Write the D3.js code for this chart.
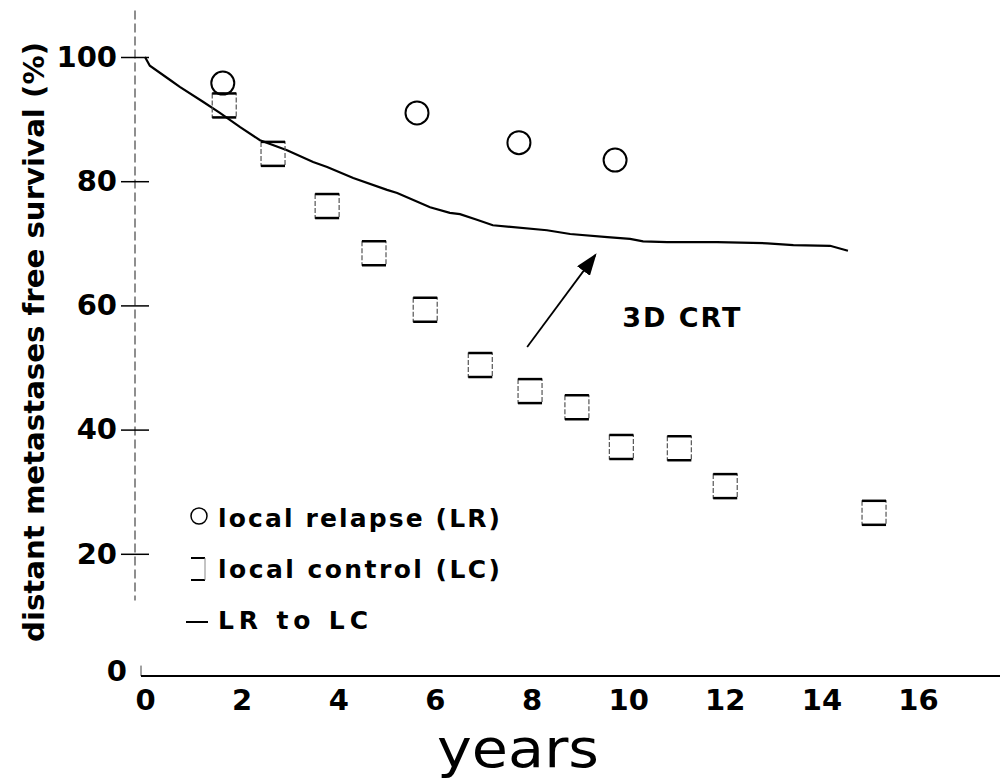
<!DOCTYPE html>
<html>
<head>
<meta charset="utf-8">
<script src="https://cdn.jsdelivr.net/npm/d3@7"></script>
<style>
  body { margin: 0; background: #fff; }
  text { font-family: "DejaVu Sans", sans-serif; fill: #000; }
</style>
</head>
<body>
<div id="chart-area"></div>
<script>
// data
var lrYears = [1.61, 5.63, 7.74, 9.73];
var lrValues = [95.8, 91.0, 86.2, 83.4];

var lcYears = [1.64, 2.65, 3.77, 4.74, 5.80, 6.94, 7.97, 8.94, 9.86, 11.06, 12.01, 15.09];
var lcValues = [92.2, 84.4, 76.0, 68.4, 59.3, 50.4, 46.2, 43.6, 37.2, 37.0, 30.9, 26.6];

var curveYears = [0, 0.10, 0.52, 0.72, 1.20, 1.55, 1.97, 2.38, 2.94, 3.48, 3.77, 4.31, 5.01, 5.22, 5.90,
  6.31, 6.52, 6.87, 7.20, 8.32, 8.80, 9.57, 10.04, 10.31, 10.81, 11.84, 12.88, 13.42, 14.18, 14.55];
var curveValues = [100, 98.6, 96.3, 95.2, 92.8, 91.0, 88.7, 86.6, 85.0, 83.1, 82.3, 80.5, 78.6, 78.1, 75.8,
  74.9, 74.7, 73.8, 72.9, 72.1, 71.5, 71.0, 70.7, 70.3, 70.2, 70.2, 70.0, 69.7, 69.6, 68.8];

var xTicks = [0, 2, 4, 6, 8, 10, 12, 14, 16];
var yTicks = [0, 20, 40, 60, 80, 100];

var legendLabels = ["local relapse (LR)", "local control (LC)", "LR to LC"];

var width = 1000;
var height = 782;

var svg = d3.select("#chart-area").append("svg")
  .attr("width", width)
  .attr("height", height)

var x = d3.scaleLinear()
  .domain([0, 16])
  .range([145, 918])

var y = d3.scaleLinear()
  .domain([0, 100])
  .range([678, 57])

var yAxisX = 135

// Y axis (dashed, like the scan)
svg.append("line")
  .attr("x1", yAxisX).attr("x2", yAxisX)
  .attr("y1", y(107.5)).attr("y2", y(12.5))
  .attr("stroke", "#444")
  .attr("stroke-width", 1.2)
  .attr("stroke-dasharray", "9,4")

svg.append("line")
  .attr("x1", x(0) - 4).attr("x2", x(0) - 4)
  .attr("y1", y(2)).attr("y2", y(0) - 2)
  .attr("stroke", "#444")
  .attr("stroke-width", 1)

var yAxisGroup = svg.append("g")
  .attr("transform", "translate(" + yAxisX + ",0)")
  .call(d3.axisLeft(y).tickValues(yTicks).tickSize(0).tickPadding(18))

yAxisGroup.select(".domain").remove()
yAxisGroup.selectAll(".tick text")
  .attr("font-size", "29px")
  .attr("font-weight", "bold")
  .attr("font-family", "DejaVu Sans, sans-serif")
  .attr("fill", "#000")
yAxisGroup.selectAll(".tick")
  .filter(d => d > 0)
  .append("line")
  .attr("x1", -14).attr("x2", 14)
  .attr("stroke", "#000")
  .attr("stroke-width", 1.5)
yAxisGroup.selectAll(".tick")
  .filter(d => d == 0)
  .select("text")
  .attr("x", -8)
  .attr("dy", "0.1em")

// X axis
svg.append("line")
  .attr("x1", x(0) - 4).attr("x2", width)
  .attr("y1", y(0) - 2).attr("y2", y(0) - 2)
  .attr("stroke", "#000")
  .attr("stroke-width", 2)

var xAxisGroup = svg.append("g")
  .attr("transform", "translate(0," + (y(0) - 2) + ")")
  .call(d3.axisBottom(x).tickValues(xTicks).tickSize(0).tickPadding(13))

xAxisGroup.select(".domain").remove()
xAxisGroup.selectAll(".tick text")
  .attr("font-size", "29px")
  .attr("font-weight", "bold")
  .attr("font-family", "DejaVu Sans, sans-serif")
  .attr("fill", "#000")

// axis labels
svg.append("text")
  .attr("x", 518)
  .attr("y", 767)
  .attr("text-anchor", "middle")
  .attr("font-size", "54px")
  .attr("textLength", 162)
  .attr("lengthAdjust", "spacingAndGlyphs")
  .text("years")

svg.append("text")
  .attr("transform", "translate(44,342) rotate(-90)")
  .attr("text-anchor", "middle")
  .attr("font-size", "28px")
  .attr("font-weight", "bold")
  .attr("textLength", 600)
  .attr("lengthAdjust", "spacingAndGlyphs")
  .text("distant metastases free survival (%)")

// LR to LC curve
var line = d3.line()
  .x(d => x(d[0]))
  .y(d => y(d[1]))

svg.append("path")
  .datum(d3.zip(curveYears, curveValues))
  .attr("d", line)
  .attr("fill", "none")
  .attr("stroke", "#000")
  .attr("stroke-width", 2.2)

// local relapse circles
svg.selectAll("circle.lr")
  .data(d3.zip(lrYears, lrValues))
  .enter().append("circle")
  .attr("class", "lr")
  .attr("cx", d => x(d[0]))
  .attr("cy", d => y(d[1]))
  .attr("r", 11.5)
  .attr("fill", "none")
  .attr("stroke", "#000")
  .attr("stroke-width", 2)

// local control squares (scan shows heavy top/bottom, faint sides)
var sq = 12
var lcG = svg.selectAll("g.lc")
  .data(d3.zip(lcYears, lcValues))
  .enter().append("g")
  .attr("class", "lc")
  .attr("transform", d => "translate(" + x(d[0]) + "," + y(d[1]) + ")")

lcG.append("rect")
  .attr("x", -sq).attr("y", -sq)
  .attr("width", 2 * sq).attr("height", 2 * sq)
  .attr("fill", "none")
  .attr("stroke", "#555")
  .attr("stroke-width", 1.2)
  .attr("stroke-dasharray", "5,2")

lcG.selectAll("line")
  .data([-sq, sq])
  .enter().append("line")
  .attr("x1", -sq).attr("x2", sq)
  .attr("y1", d => d).attr("y2", d => d)
  .attr("stroke", "#000")
  .attr("stroke-width", 2.5)

// annotation arrow
svg.append("defs").append("marker")
  .attr("id", "arrow")
  .attr("viewBox", "0 0 10 10")
  .attr("refX", 9).attr("refY", 5)
  .attr("markerWidth", 22).attr("markerHeight", 16)
  .attr("markerUnits", "userSpaceOnUse")
  .attr("orient", "auto")
  .attr("preserveAspectRatio", "none")
  .append("path")
  .attr("d", "M0,0 L10,5 L0,10 Z")
  .attr("fill", "#000")

svg.append("line")
  .attr("x1", x(7.91)).attr("y1", y(53.3))
  .attr("x2", x(9.32)).attr("y2", y(68.1))
  .attr("stroke", "#000")
  .attr("stroke-width", 1.8)
  .attr("marker-end", "url(#arrow)")

svg.append("text")
  .attr("x", x(9.88))
  .attr("y", y(56.5))
  .attr("font-size", "27px")
  .attr("font-weight", "bold")
  .attr("textLength", 118)
  .attr("lengthAdjust", "spacing")
  .text("3D CRT")

// legend
var legend = svg.append("g")
  .attr("transform", "translate(186,0)")

legendLabels.forEach((label, i) => {
  var row = legend.append("g")
    .attr("transform", "translate(0," + (518 + i * 51) + ")")

  if (i == 0) {
    row.append("circle")
      .attr("cx", 13).attr("cy", -2)
      .attr("r", 8)
      .attr("fill", "none")
      .attr("stroke", "#000")
      .attr("stroke-width", 1.5)
  } else if (i == 1) {
    row.append("line").attr("x1", 5).attr("x2", 19).attr("y1", -11).attr("y2", -11)
      .attr("stroke", "#000").attr("stroke-width", 2)
    row.append("line").attr("x1", 5).attr("x2", 19).attr("y1", 11).attr("y2", 11)
      .attr("stroke", "#000").attr("stroke-width", 2)
    row.append("line").attr("x1", 19).attr("x2", 19).attr("y1", -11).attr("y2", 11)
      .attr("stroke", "#888").attr("stroke-width", 1)
  } else {
    row.append("line").attr("x1", 0).attr("x2", 22).attr("y1", 2).attr("y2", 2)
      .attr("stroke", "#000").attr("stroke-width", 2)
  }

  var t = row.append("text")
    .attr("x", 32)
    .attr("y", 9)
    .attr("font-size", "25px")
    .attr("font-weight", "bold")
    .text(label)
  if (i < 2) t.attr("textLength", 282).attr("lengthAdjust", "spacing")
  else t.attr("textLength", 150).attr("lengthAdjust", "spacing")
})
</script>
</body>
</html>
